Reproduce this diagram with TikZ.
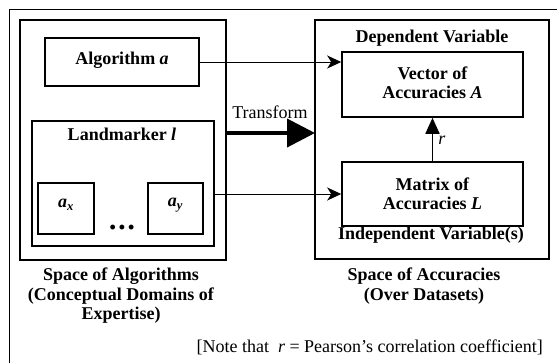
\documentclass[tikz,border=0pt]{standalone}
\usepackage{fontspec}
\setmainfont{Liberation Serif}
\usetikzlibrary{arrows.meta}
\begin{document}
\begin{tikzpicture}[x=1pt,y=-1pt,
  txt/.style={font=\fontsize{18}{19.5}\selectfont, inner sep=0pt, align=center},
  box/.style={draw, line width=1.6pt, inner sep=0pt},
  conn/.style={line width=1pt, -{Stealth[length=14pt,width=13pt,inset=4pt]}},
  rarrow/.style={line width=1.8pt, -{Triangle[length=16pt,width=14pt]}},
  bigarrow/.style={line width=4pt, -{Triangle[length=28pt,width=28pt]}, shorten >=-1pt}
]
\useasboundingbox (0,0) rectangle (557,362);
% outer frame (right and bottom edges fall outside the picture)
\draw[line width=0.9pt] (9,370) -- (9,9) -- (565,9);

% main boxes
\node[box, line width=2pt, minimum width=206pt, minimum height=240pt] (left) at (123,140) {};
\node[box, line width=2pt, minimum width=234pt, minimum height=239pt] (right) at (432,139.5) {};

% left contents
\node[box, minimum width=154pt, minimum height=48pt] (alg) at (122,62) {};
\node[txt] (algt) at (122,60) {\textbf{Algorithm \textit{a}}};
\node[box, minimum width=182pt, minimum height=125pt] (lm) at (123,183.5) {};
\node[txt] (lmt) at (122,134) {\textbf{Landmarker \textit{l}}};
\node[box, minimum width=56pt, minimum height=51pt] (ax) at (66,208.5) {};
\node[txt] (axt) at (66,205) {\textbf{\textit{a}\textsubscript{\textit{x}}}};
\node[box, minimum width=55pt, minimum height=51pt] (ay) at (175.5,208.5) {};
\node[txt] (ayt) at (175.5,205) {\textbf{\textit{a}\textsubscript{\textit{y}}}};
\node[txt] (dots) at (122,229) {\textbf{\textbullet\,\textbullet\,\textbullet}};

% right contents
\node[txt] (dep) at (432,38) {\textbf{Dependent Variable}};
\node[box, minimum width=181pt, minimum height=65pt] (vec) at (432.5,84.5) {};
\node[txt] (vect) at (432.5,83) {\textbf{Vector of}\\\textbf{Accuracies \textit{A}}};
\node[box, minimum width=181pt, minimum height=64pt] (mat) at (432.5,194) {};
\node[txt] (matt) at (432.5,194) {\textbf{Matrix of}\\\textbf{Accuracies \textit{L}}};
\node[txt] (indep) at (431,235) {\textbf{Independent Variable(s)}};
\node[txt] (rl) at (442,140) {\textit{r}};

% labels
\node[txt] (lefts) at (121,296) {\textbf{Space of Algorithms}\\\textbf{(Conceptual Domains of}\\\textbf{Expertise)}};
\node[txt] (rights) at (424,286) {\textbf{Space of Accuracies}\\\textbf{(Over Datasets)}};
\node[txt] (trans) at (270,112) {Transform};
\node[txt, anchor=east] (note) at (543,347) {[Note that~ \textit{r} = Pearson’s correlation coefficient]};

% connectors
\coordinate (tfrom) at (left.east |- 0,133);
\coordinate (tto) at (right.west |- 0,133);
\draw[bigarrow] (tfrom) -- (tto);
\draw[conn] (alg.east) -- (alg.east -| vec.west);
\draw[conn] (mat.west -| lm.east) -- (mat.west);
\draw[rarrow] (mat.north) -- (vec.south);
\end{tikzpicture}
\end{document}
